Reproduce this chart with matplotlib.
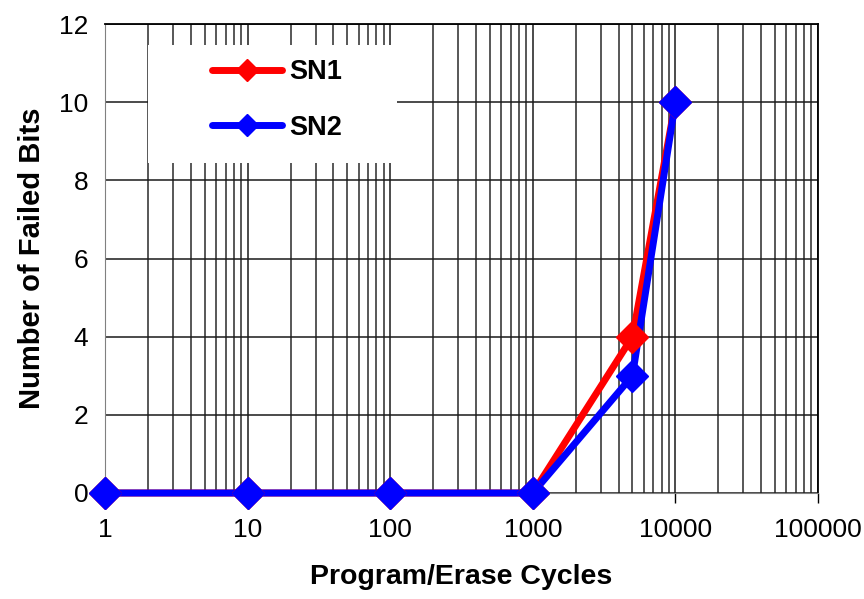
import matplotlib.pyplot as plt
from matplotlib.lines import Line2D
from matplotlib.patches import Rectangle
from matplotlib.ticker import LogLocator, FixedLocator, NullFormatter

plt.rcParams['font.family'] = ['Liberation Sans', 'DejaVu Sans']

cycles = [1, 10, 100, 1000, 5000, 10000]
sn1 = [0, 0, 0, 0, 4, 10]
sn2 = [0, 0, 0, 0, 3, 10]
xticks = [1, 10, 100, 1000, 10000, 100000]
xlabels = ['1', '10', '100', '1000', '10000', '100000']
yticks = [0, 2, 4, 6, 8, 10, 12]

W, H = 864, 599
fig = plt.figure(figsize=(W/100, H/100), dpi=100)
ax = fig.add_axes([105/W, 1-493/H, (818-105)/W, (493-24)/H])

# lines first, markers on top (like the original)
ax.plot(cycles, sn1, color='#ff0000', lw=5, zorder=3, clip_on=False)
ax.plot(cycles, sn2, color='#0000ff', lw=5, zorder=3, clip_on=False)
ax.plot(cycles, sn1, ls='none', color='#ff0000', marker='D', ms=16,
        zorder=5, clip_on=False)
ax.plot(cycles, sn2, ls='none', color='#0000ff', marker='D', ms=16,
        zorder=5, clip_on=False)

ax.set_xscale('log')
ax.set_xlim(1, 100000)
ax.set_ylim(0, 12)
ax.xaxis.set_major_locator(FixedLocator(xticks))
ax.set_xticklabels(xlabels)
ax.xaxis.set_minor_locator(LogLocator(base=10, subs=range(2, 10), numticks=20))
ax.xaxis.set_minor_formatter(NullFormatter())
ax.set_yticks(yticks)

ax.grid(True, which='major', axis='both', color='#1a1a1a', lw=1.1)
ax.grid(True, which='minor', axis='x', color='#2a2a2a', lw=1.1)
ax.set_axisbelow(True)

ax.tick_params(axis='x', which='major', direction='out', length=7,
               width=1, color='#000000', labelsize=19, pad=11)
ax.tick_params(axis='x', which='minor', length=0)
ax.tick_params(axis='y', length=0, labelsize=19, pad=12)

for s in ['top', 'right']:
    ax.spines[s].set_color('#000000')
    ax.spines[s].set_linewidth(1.3)
ax.spines['bottom'].set_color('#808080')
ax.spines['left'].set_color('#808080')

ax.set_xlabel('Program/Erase Cycles', fontsize=20.5, fontweight='bold', labelpad=16)
ax.set_ylabel('Number of Failed Bits', fontsize=21, fontweight='bold', labelpad=9)

# white box behind the legend, hiding the grid
fig.patches.append(Rectangle((148/W, 1-163/H), (397-148)/W, (163-45)/H,
                             transform=fig.transFigure, facecolor='white',
                             edgecolor='none', zorder=1.5))

handles = [Line2D([], [], color='#ff0000', lw=5, marker='D', ms=11,
                  solid_capstyle='round'),
           Line2D([], [], color='#0000ff', lw=5, marker='D', ms=11,
                  solid_capstyle='round')]
fig.legend(handles, ['SN1', 'SN2'], loc='center left',
           bbox_to_anchor=(212/W, 1-100/H), frameon=False,
           prop={'weight': 'bold', 'size': 19.5}, handlelength=2.6,
           borderpad=0, labelspacing=1.1, borderaxespad=0, handletextpad=0.25)

fig.savefig('out.png', dpi=100)
